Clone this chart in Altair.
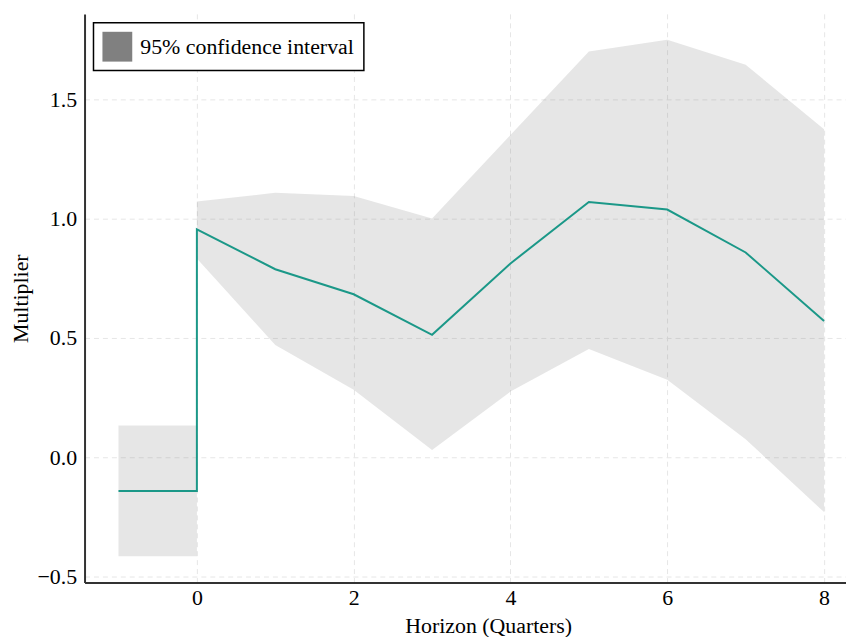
import altair as alt
import pandas as pd

# Impulse response (post period)
horizon = [0, 1, 2, 3, 4, 5, 6, 7, 8]
irf = [0.955, 0.788, 0.683, 0.513, 0.812, 1.070, 1.038, 0.858, 0.571]
upper = [1.072, 1.108, 1.095, 1.000, 1.350, 1.700, 1.750, 1.645, 1.375]
lower = [0.833, 0.470, 0.283, 0.030, 0.275, 0.454, 0.325, 0.075, -0.230]

# Pre period (horizon -1 to 0)
pre_x = [-1, 0]
pre_irf = [-0.142, -0.142]
pre_upper = [0.133, 0.133]
pre_lower = [-0.415, -0.415]

label = "95% confidence interval"

band = pd.DataFrame({
    "x": pre_x + horizon,
    "lo": pre_lower + lower,
    "hi": pre_upper + upper,
    "seg": ["pre"] * len(pre_x) + ["post"] * len(horizon),
    "label": label,
})
line = pd.DataFrame({
    "x": pre_x + horizon,
    "y": pre_irf + irf,
    "ord": list(range(len(pre_x) + len(horizon))),
})

FONT = "Liberation Serif"
xs = alt.Scale(domain=[-1.433, 8.28], nice=False, zero=False)
ys = alt.Scale(domain=[-0.525, 1.858], nice=False, zero=False)

xaxis = alt.Axis(values=[0, 2, 4, 6, 8], title="Horizon (Quarters)", ticks=False,
                 labelPadding=5, format="d",
                 titleX=406, titleY=50, titleBaseline="alphabetic", titleAlign="center")
yaxis = alt.Axis(values=[-0.5, 0, 0.5, 1.0, 1.5], title="Multiplier", ticks=False,
                 labelPadding=8, format=".1f",
                 titleX=-57, titleY=286, titleBaseline="alphabetic", titleAlign="center",
                 titleAngle=270)

area = alt.Chart(band).mark_area(opacity=0.2).encode(
    x=alt.X("x:Q", scale=xs, axis=xaxis),
    y=alt.Y("lo:Q", scale=ys, axis=yaxis),
    y2="hi:Q",
    detail="seg:N",
    fill=alt.Fill("label:N", scale=alt.Scale(range=["#808080"]),
                  legend=alt.Legend(
                      title=None, orient="top-left", offset=9, padding=9,
                      strokeColor="black", fillColor="white",
                      symbolType="square", symbolSize=900, symbolOpacity=1,
                      symbolStrokeWidth=0,
                      labelFont=FONT, labelFontSize=22, labelColor="black",
                      labelOffset=8, labelLimit=0,
                  )),
)

ln = alt.Chart(line).mark_line(color="#1b9888", strokeWidth=2).encode(
    x=alt.X("x:Q", scale=xs),
    y=alt.Y("y:Q", scale=ys),
    order="ord:Q",
)

chart = alt.layer(area, ln).properties(
    width=766, height=572,
    autosize=alt.AutoSizeParams(type="none"),
    padding={"left": 77, "top": 4, "right": 0, "bottom": 70},
).configure_view(stroke=None).configure_axis(
    labelFont=FONT, titleFont=FONT, labelFontSize=22, titleFontSize=22,
    labelColor="black", titleColor="black", titleFontWeight="normal",
    domainColor="#333333", domainWidth=2,
    gridColor="#e6e6e6", gridDash=[5, 4], gridWidth=1,
).configure_legend(
    labelFont=FONT, labelFontSize=22, labelLimit=0, strokeWidth=1.5,
)

chart.save("out.html", embed_options={"renderer": "svg", "actions": False})
